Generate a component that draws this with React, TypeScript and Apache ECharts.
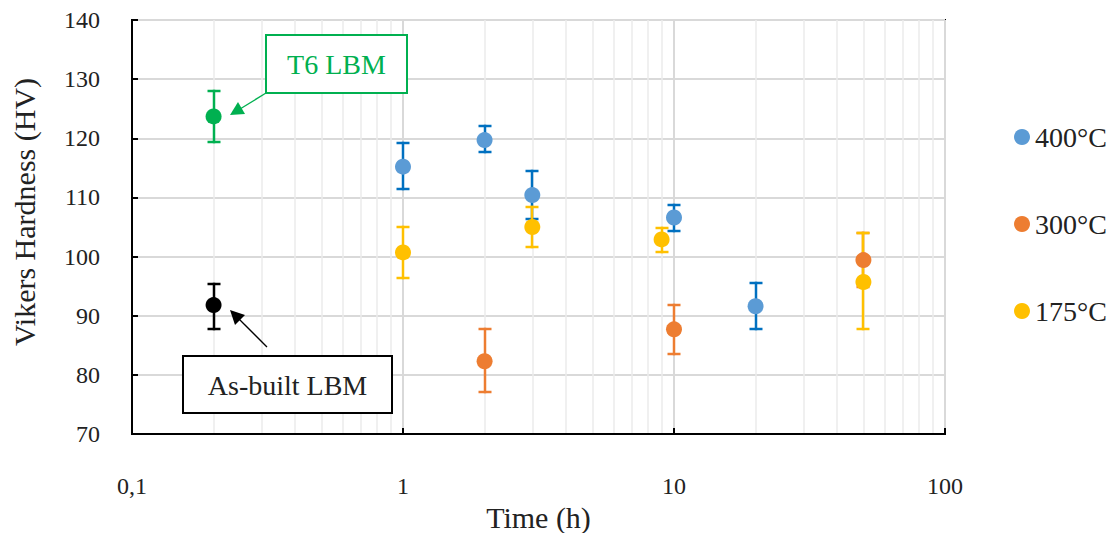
import React, { useEffect, useRef } from "react";
import * as echarts from "echarts";

const seriesNames = ["400°C", "300°C", "175°C"];
const markerColors = ["#5B9BD5", "#ED7D31", "#FFC000"];
const barColors = ["#0070C0", "#ED7D31", "#FFC000"];

// [time h, mean HV, low, high]
const data400: number[][] = [
  [1, 115.2, 111.5, 119.2],
  [2, 119.7, 117.6, 122.0],
  [3, 110.4, 106.4, 114.4],
  [10, 106.6, 104.4, 108.8],
  [20, 91.6, 87.7, 95.5],
];
const data300: number[][] = [
  [2, 82.3, 77.1, 87.7],
  [10, 87.7, 83.6, 91.8],
  [50, 99.4, 94.8, 104.0],
];
const data175: number[][] = [
  [1, 100.7, 96.4, 105.0],
  [3, 105.0, 101.6, 108.3],
  [9, 102.9, 100.7, 104.9],
  [50, 95.7, 87.7, 104.0],
];
const dataT6: number[][] = [[0.2, 123.7, 119.3, 128.0]];
const dataAsBuilt: number[][] = [[0.2, 91.8, 87.7, 95.3]];

const xMinorLines = [
  0.2, 0.3, 0.4, 0.5, 0.6, 0.7, 0.8, 0.9,
  2, 3, 4, 5, 6, 7, 8, 9,
  20, 30, 40, 50, 60, 70, 80, 90,
];

const FONT = "Liberation Serif";

function errorSeries(d: number[][], color: string, name: string) {
  return {
    type: "custom",
    name: name + "-err",
    data: d.map((r) => [r[0], r[2], r[3]]),
    encode: { x: 0, y: [1, 2] },
    silent: true,
    clip: false,
    z: 6,
    renderItem: (params: any, api: any) => {
      const x = api.value(0);
      const lo = api.coord([x, api.value(1)]);
      const hi = api.coord([x, api.value(2)]);
      const cx = Math.round(lo[0]);
      const yLo = Math.round(lo[1]);
      const yHi = Math.round(hi[1]);
      const cap = 6.5;
      const w = 2.5;
      return {
        type: "group",
        children: [
          {
            type: "rect",
            shape: { x: cx - w / 2, y: yHi - w / 2, width: w, height: yLo - yHi + w },
            style: { fill: color, stroke: "none", opacity: 1 },
          },
          {
            type: "rect",
            shape: { x: cx - cap, y: yLo - w / 2, width: cap * 2, height: w },
            style: { fill: color, stroke: "none", opacity: 1 },
          },
          {
            type: "rect",
            shape: { x: cx - cap, y: yHi - w / 2, width: cap * 2, height: w },
            style: { fill: color, stroke: "none", opacity: 1 },
          },
        ],
      };
    },
  };
}

function pointSeries(d: number[][], color: string, name: string) {
  return {
    type: "scatter",
    name,
    data: d.map((r) => [r[0], r[1]]),
    symbol: "circle",
    symbolSize: 16,
    itemStyle: { color, opacity: 1 },
    z: 7,
  };
}

export default function App() {
  const ref = useRef<HTMLDivElement>(null);
  useEffect(() => {
    document.body.style.margin = "0";
    if (!ref.current) return;
    const chart = echarts.init(ref.current, null, { renderer: "svg" });
    const groups = [data400, data300, data175];
    const series: any[] = [];
    series.push({
      type: "scatter",
      name: "minor-grid",
      data: [],
      silent: true,
      z: 0,
      markLine: {
        z: 0,
        silent: true,
        symbol: ["none", "none"],
        label: { show: false },
        lineStyle: { color: "#EBEBEB", width: 1.5, type: "solid" },
        emphasis: { disabled: true },
        data: xMinorLines.map((v) => ({ xAxis: v })),
      },
    });
    groups.forEach((g, i) => {
      series.push(errorSeries(g, barColors[i], seriesNames[i]));
    });
    series.push(errorSeries(dataT6, "#00B050", "T6 LBM"));
    series.push(errorSeries(dataAsBuilt, "#000000", "As-built LBM"));
    groups.forEach((g, i) => {
      series.push(pointSeries(g, markerColors[i], seriesNames[i]));
    });
    series.push(pointSeries(dataT6, "#00B050", "T6 LBM"));
    series.push(pointSeries(dataAsBuilt, "#000000", "As-built LBM"));

    const option: any = {
      animation: false,
      backgroundColor: "#ffffff",
      textStyle: { fontFamily: FONT },
      grid: {
        left: 132,
        top: 20,
        width: 813,
        height: 414,
        outerBoundsMode: "none",
        containLabel: false,
        show: true,
        borderColor: "#000000",
        borderWidth: 2,
        backgroundColor: "transparent",
      },
      legend: {
        data: seriesNames,
        orient: "vertical",
        left: 1009,
        top: 118,
        itemGap: 59,
        itemWidth: 16,
        itemHeight: 16,
        icon: "circle",
        textStyle: { fontFamily: FONT, fontSize: 28, color: "#222" },
        selectedMode: false,
      },
      xAxis: {
        type: "log",
        logBase: 10,
        min: 0.1,
        max: 100,
        name: "Time (h)",
        nameLocation: "middle",
        nameGap: 62,
        nameTextStyle: { fontFamily: FONT, fontSize: 30, color: "#222" },
        axisLine: { show: true, lineStyle: { color: "#000", width: 2 } },
        axisTick: { show: true, inside: true, length: 6, lineStyle: { color: "#000", width: 2 } },
        axisLabel: {
          fontFamily: FONT,
          fontSize: 24,
          color: "#222",
          margin: 40,
          formatter: (v: number) => String(v).replace(".", ","),
        },
        splitLine: { show: true, lineStyle: { color: "#D9D9D9", width: 2 } },
        minorTick: { show: false },
        minorSplitLine: { show: false },
      },
      yAxis: {
        type: "value",
        min: 70,
        max: 140,
        interval: 10,
        name: "Vikers Hardness (HV)",
        nameLocation: "middle",
        nameGap: 93,
        nameTextStyle: { fontFamily: FONT, fontSize: 30, color: "#222", padding: [0, 0, 0, 30] },
        axisLine: { show: true, lineStyle: { color: "#000", width: 2 } },
        axisTick: { show: true, inside: true, length: 6, lineStyle: { color: "#000", width: 2 } },
        axisLabel: { fontFamily: FONT, fontSize: 24, color: "#222", margin: 32 },
        splitLine: { show: true, lineStyle: { color: "#D9D9D9", width: 2 } },
      },
      graphic: [
        {
          type: "rect",
          shape: { x: 266, y: 35, width: 141, height: 58 },
          style: { fill: "#ffffff", stroke: "#00B050", lineWidth: 2 },
          z: 10,
        },
        {
          type: "text",
          x: 336.5,
          y: 64,
          style: {
            text: "T6 LBM",
            fill: "#00B050",
            font: `28px "${FONT}"`,
            textAlign: "center",
            textVerticalAlign: "middle",
          },
          z: 11,
        },
        {
          type: "line",
          shape: { x1: 266, y1: 93, x2: 240, y2: 109 },
          style: { stroke: "#00B050", lineWidth: 1.3 },
          z: 10,
        },
        {
          type: "polygon",
          shape: { points: [[230, 115], [245, 114], [238, 102]] },
          style: { fill: "#00B050" },
          z: 10,
        },
        {
          type: "rect",
          shape: { x: 183, y: 356, width: 209, height: 57 },
          style: { fill: "#ffffff", stroke: "#000000", lineWidth: 2 },
          z: 10,
        },
        {
          type: "text",
          x: 287.5,
          y: 385,
          style: {
            text: "As-built LBM",
            fill: "#222",
            font: `28px "${FONT}"`,
            textAlign: "center",
            textVerticalAlign: "middle",
          },
          z: 11,
        },
        {
          type: "line",
          shape: { x1: 267, y1: 347, x2: 239, y2: 319 },
          style: { stroke: "#000000", lineWidth: 1.3 },
          z: 10,
        },
        {
          type: "polygon",
          shape: { points: [[230, 310], [245, 315], [235, 325]] },
          style: { fill: "#000000" },
          z: 10,
        },
      ],
      series,
    };
    chart.setOption(option);
    return () => chart.dispose();
  }, []);
  return <div ref={ref} style={{ width: 1118, height: 533 }} />;
}
